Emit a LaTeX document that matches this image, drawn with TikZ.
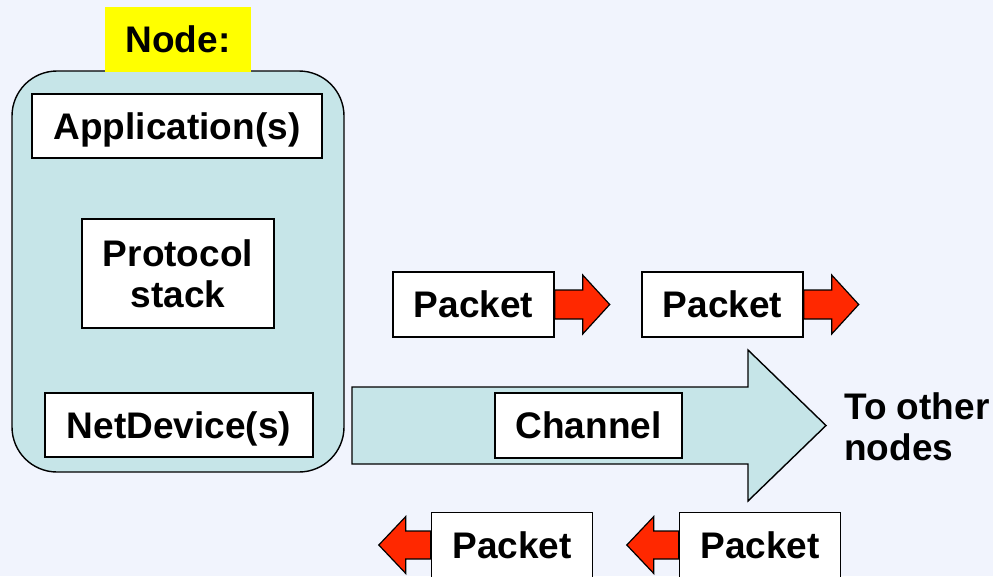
\documentclass[tikz,border=0pt]{standalone}
\usepackage{fontspec}
\setmainfont{Liberation Sans}
\begin{document}
\begin{tikzpicture}[x=1pt,y=-1pt,
  every node/.style={font=\fontsize{37}{41}\selectfont\bfseries, inner sep=0pt, align=center},
  whitebox/.style={draw=black, fill=white, line width=1.4pt, rectangle},
  oneline/.style={text depth=0pt},
  cyanfill/.style={draw=black, fill=nodecyan, line width=1.4pt},
  redarrow/.style={draw=black, fill=pktred, line width=1.2pt, line join=miter}
]
\definecolor{bg}{RGB}{241,244,253}
\definecolor{nodecyan}{RGB}{198,229,232}
\definecolor{pktred}{RGB}{255,40,0}
\definecolor{labelyellow}{RGB}{255,255,0}

% page and background
\clip (0,0) rectangle (993,576);
\path[use as bounding box, fill=bg] (0,0) rectangle (993,576);

% the node container
\node[cyanfill, rounded corners=45pt, minimum width=332pt, minimum height=401pt] (nodebox) at (178,271.5) {};
\node[fill=labelyellow, oneline, minimum width=146pt, minimum height=65pt] (nodelabel) at (178,39.5) {Node:};

\node[whitebox, oneline, minimum width=290pt, minimum height=64pt] (app) at (177,126) {Application(s)};
\node[whitebox, minimum width=192pt, minimum height=109pt] (proto) at (178,273.5) {Protocol\\stack};
\node[whitebox, oneline, minimum width=268pt, minimum height=64pt] (netdev) at (179,425) {NetDevice(s)};

% the channel: a wide arrow leaving the node
\coordinate (chstart) at (352,425.5);
\coordinate (chtip) at (826,425.5);
\draw[cyanfill, line join=miter]
  (chstart) ++(0,-38.5) -- (748,387) -- (748,350) -- (chtip) -- (748,501) -- (748,464) -- (352,464) -- cycle;
\node[whitebox, oneline, minimum width=187pt, minimum height=65pt] (channel) at (588.5,425.5) {Channel};
\node[anchor=west, align=left] (others) at (844,427) {To other\\nodes};

% outgoing packets
\node[whitebox, oneline, minimum width=161pt, minimum height=65pt] (pktoutA) at (473.5,304.5) {Packet};
\node[whitebox, oneline, minimum width=161pt, minimum height=65pt] (pktoutB) at (722.5,304.5) {Packet};
\foreach \p in {pktoutA,pktoutB}{
  \draw[redarrow] (\p.east) ++(0,-14.5) -- ++(28,0) -- ++(0,-15) -- ++(27,29.5)
    -- ++(-27,29.5) -- ++(0,-15) -- ++(-28,0) -- cycle;
}

% incoming packets
\node[whitebox, oneline, minimum width=161pt, minimum height=65pt] (pktinA) at (512,545) {Packet};
\node[whitebox, oneline, minimum width=161pt, minimum height=65pt] (pktinB) at (760,545) {Packet};
\foreach \p in {pktinA,pktinB}{
  \draw[redarrow] (\p.west) ++(0,-14) -- ++(-25,0) -- ++(0,-14.5) -- ++(-27,28.5)
    -- ++(27,28.5) -- ++(0,-14.5) -- ++(25,0) -- cycle;
}
\end{tikzpicture}
\end{document}
